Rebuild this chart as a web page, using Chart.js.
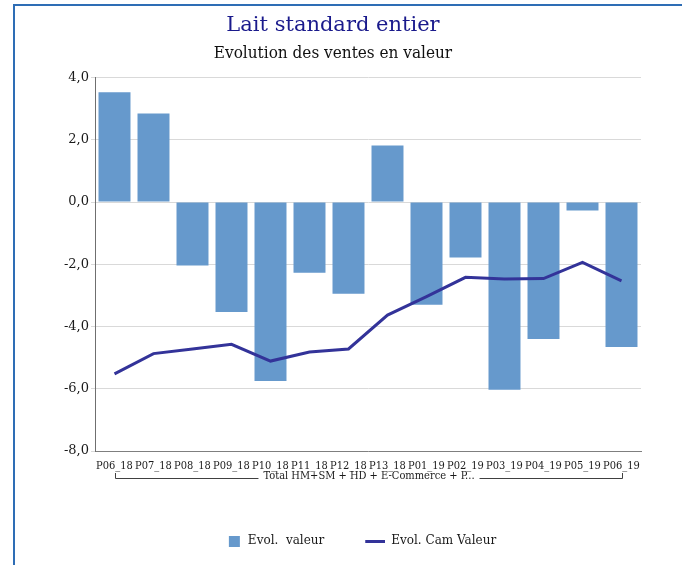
<!DOCTYPE html>
<html lang="fr">
<head>
<meta charset="UTF-8">
<title>Lait standard entier</title>
<script src="https://cdn.jsdelivr.net/npm/chart.js@4"></script>
<style>
  body { margin: 0; background: #fff; }
  canvas { position: absolute; left: 0; top: 0; }
  /* cadre bleu en haut et à gauche */
  #cadre {
    position: absolute; left: 13px; top: 4px; width: 700px; height: 600px;
    border-top: 2px solid #2e6db5; border-left: 2px solid #2e6db5;
    pointer-events: none;
  }
</style>
</head>
<body>
<canvas id="graph" width="682" height="565"></canvas>
<div id="cadre"></div>

<script>
  // Périodes et séries
  const periodes = ["P06_18", "P07_18", "P08_18", "P09_18", "P10_18", "P11_18", "P12_18",
                    "P13_18", "P01_19", "P02_19", "P03_19", "P04_19", "P05_19", "P06_19"];
  const evolValeur = [3.53, 2.85, -2.04, -3.53, -5.75, -2.27, -2.95,
                      1.82, -3.30, -1.78, -6.03, -4.40, -0.27, -4.66];
  const evolCamValeur = [-5.52, -4.87, -4.72, -4.57, -5.11, -4.82, -4.72,
                         -3.63, -3.04, -2.42, -2.47, -2.46, -1.94, -2.53];
  const ticksY = [-8, -6, -4, -2, 0, 2, 4];
  const groupe = "Total HM+SM + HD + E-Commerce + P...";

  const serif = '"DejaVu Serif", serif';
  const etroit = '"DejaVu Serif Condensed", "Liberation Serif", serif';

  // petits motifs pour la légende
  function motif(w, h, dessin) {
    const c = document.createElement("canvas");
    c.width = w; c.height = h;
    dessin(c.getContext("2d"));
    return c;
  }
  const carre = motif(22, 11, ctx => { ctx.fillStyle = "#6699cc"; ctx.fillRect(9, 0, 11, 11); });
  const trait = motif(22, 3, ctx => { ctx.fillStyle = "#333399"; ctx.fillRect(2, 0, 20, 3); });

  // accolade sous les libellés de l'axe X
  const accolade = {
    id: "accolade",
    afterDraw(chart) {
      const { ctx, chartArea, scales: { x } } = chart;
      const x0 = Math.round(x.getPixelForValue(0)) + 0.5;
      const x1 = Math.round(x.getPixelForValue(periodes.length - 1)) + 0.5;
      const yHaut = chartArea.bottom + 22;
      const yBas = Math.round(chartArea.bottom + 27) + 0.5;
      const milieu = (x0 + x1) / 2;
      ctx.save();
      ctx.font = "11px " + etroit;
      const demi = ctx.measureText(groupe).width / 2 + 5;
      ctx.strokeStyle = "#404040";
      ctx.lineWidth = 1;
      ctx.beginPath();
      ctx.moveTo(x0, yHaut); ctx.lineTo(x0, yBas); ctx.lineTo(milieu - demi, yBas);
      ctx.moveTo(milieu + demi, yBas); ctx.lineTo(x1, yBas); ctx.lineTo(x1, yHaut);
      ctx.stroke();
      ctx.fillStyle = "#1a1a1a";
      ctx.textAlign = "center";
      ctx.textBaseline = "middle";
      ctx.fillText(groupe, milieu, yBas - 2);
      ctx.restore();
    }
  };

  // titres un peu à gauche, légende un peu à droite
  const decalages = {
    id: "decalages",
    afterLayout(chart) {
      chart.boxes.forEach(b => {
        if (b === chart.legend) { b.left += 10; b.right += 10; }
        else if (b.position === "top" && b.options && "text" in b.options) { b.left -= 15; b.right -= 15; }
      });
    }
  };

  new Chart(document.getElementById("graph"), {
    type: "bar",
    data: {
      labels: periodes,
      datasets: [
        {
          label: "Evol.  valeur",
          data: evolValeur,
          backgroundColor: "#6699cc",
          categoryPercentage: 1,
          barPercentage: 0.82,
          order: 2
        },
        {
          type: "line",
          label: "Evol. Cam Valeur",
          data: evolCamValeur,
          borderColor: "#333399",
          backgroundColor: "#333399",
          borderWidth: 3,
          pointRadius: 0,
          tension: 0,
          order: 1
        }
      ]
    },
    options: {
      responsive: false,
      animation: false,
      layout: { padding: { left: 55, right: 41, top: 0, bottom: 8 } },
      plugins: {
        title: {
          display: true,
          text: "Lait standard entier",
          color: "#1a1a8c",
          font: { family: serif, size: 21, weight: "normal" },
          padding: { top: 13, bottom: 4 }
        },
        subtitle: {
          display: true,
          text: "Evolution des ventes en valeur",
          color: "#111",
          font: { family: etroit, size: 17 },
          padding: { top: 1, bottom: 14 }
        },
        legend: {
          position: "bottom",
          reverse: true,
          labels: {
            usePointStyle: true,
            pointStyleWidth: 22,
            padding: 39,
            color: "#1a1a1a",
            font: { family: serif, size: 12 },
            generateLabels(chart) {
              const items = Chart.defaults.plugins.legend.labels.generateLabels(chart);
              items.forEach(it => { it.pointStyle = it.datasetIndex === 0 ? carre : trait; });
              return items;
            }
          }
        },
        tooltip: { enabled: false }
      },
      scales: {
        x: {
          grid: { display: false, drawTicks: false },
          border: { color: "#7f7f7f", width: 1 },
          ticks: {
            color: "#1a1a1a",
            font: { family: etroit, size: 11 },
            padding: 9,
            maxRotation: 0,
            autoSkip: false
          },
          afterFit(scale) { scale.height = 45; }
        },
        y: {
          min: -8,
          max: 4,
          afterBuildTicks(scale) { scale.ticks = ticksY.map(v => ({ value: v })); },
          grid: { color: "#d9d9d9", tickLength: 4 },
          border: { color: "#6f6f6f", width: 1 },
          ticks: {
            color: "#1a1a1a",
            font: { family: serif, size: 13 },
            padding: 2,
            callback: v => v.toFixed(1).replace(".", ",")
          },
          afterFit(scale) { scale.width = 40; }
        }
      }
    },
    plugins: [accolade, decalages]
  });
</script>
</body>
</html>
